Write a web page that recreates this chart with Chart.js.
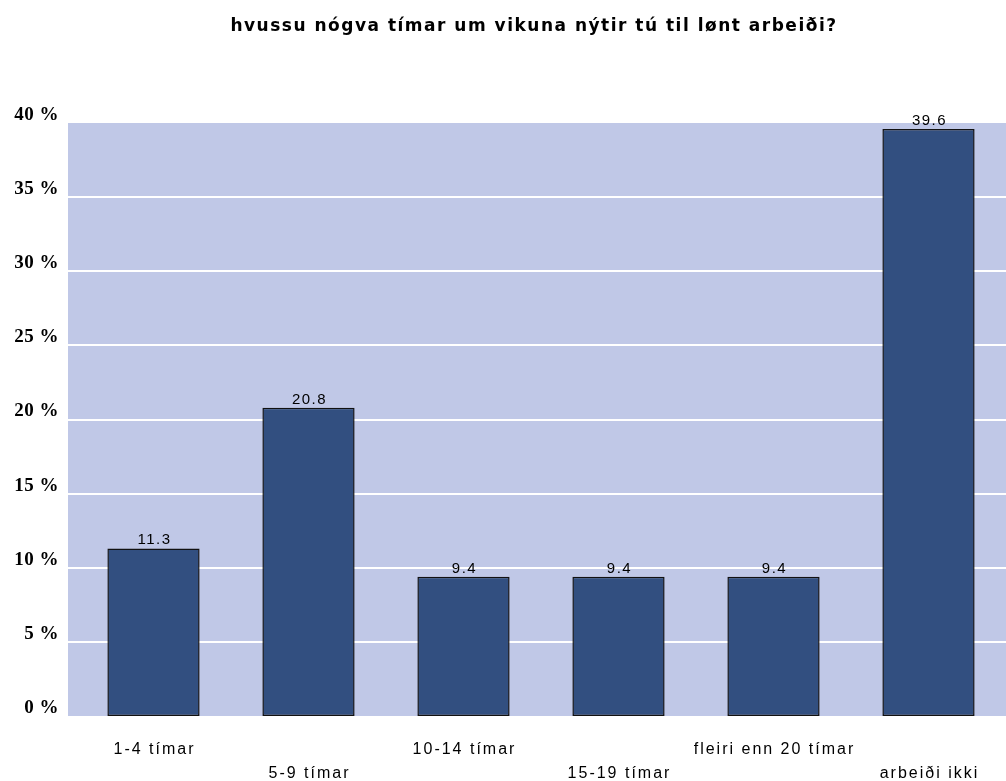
<!DOCTYPE html>
<html>
<head>
<meta charset="utf-8">
<script src="https://cdn.jsdelivr.net/npm/chart.js@4.4.0/dist/chart.umd.min.js"></script>
<style>
  html, body { margin: 0; padding: 0; background: #ffffff; }
  #wrap { position: relative; width: 1006px; height: 781px; }
</style>
</head>
<body>
<div id="wrap"><canvas id="hoursChart"></canvas></div>
<script>
// data
const categories = ['1-4 tímar', '5-9 tímar', '10-14 tímar', '15-19 tímar', 'fleiri enn 20 tímar', 'arbeiði ikki'];
const percents = [11.3, 20.8, 9.4, 9.4, 9.4, 39.6];
const yTicks = [0, 5, 10, 15, 20, 25, 30, 35, 40];
const chartTitle = 'hvussu nógva tímar um vikuna nýtir tú til lønt arbeiði?';

const SANS = '"Liberation Sans", Arial, sans-serif';

// plot background + white gridlines, a bit wider than the chart area
const plotBackground = {
    id: 'plotBackground',
    beforeDraw(chart) {
        const { ctx, chartArea } = chart;
        const y = chart.scales.y;
        ctx.save();
        ctx.fillStyle = '#c0c8e7';
        ctx.fillRect(chartArea.left - 8, chartArea.top, chartArea.right - chartArea.left + 8, chartArea.bottom - chartArea.top);
        ctx.strokeStyle = '#ffffff';
        ctx.lineWidth = 2;
        yTicks.forEach(t => {
            if (t === 0 || t === 40) return;
            const py = Math.round(y.getPixelForValue(t));
            ctx.beginPath();
            ctx.moveTo(chartArea.left - 8, py);
            ctx.lineTo(chartArea.right, py);
            ctx.stroke();
        });
        ctx.restore();
    }
};

// all the text: drawn here so the wide letter spacing of the original can be kept
const textLayer = {
    id: 'textLayer',
    afterDatasetsDraw(chart) {
        const { ctx } = chart;
        const x = chart.scales.x;
        const y = chart.scales.y;
        ctx.save();
        ctx.fillStyle = '#000000';

        // title
        ctx.font = 'bold 17px "DejaVu Sans", Verdana, sans-serif';
        ctx.letterSpacing = '1.5px';
        ctx.textAlign = 'center';
        ctx.textBaseline = 'alphabetic';
        ctx.fillText(chartTitle, 534, 31);

        // y tick labels
        ctx.font = 'bold 19px "Liberation Serif", "Times New Roman", serif';
        ctx.letterSpacing = '0.5px';
        ctx.textAlign = 'right';
        ctx.textBaseline = 'middle';
        yTicks.forEach(t => {
            ctx.fillText(t + ' %', 59, y.getPixelForValue(t) - 8);
        });

        // category labels, every second one on a lower line
        ctx.font = '16px ' + SANS;
        ctx.letterSpacing = '2px';
        ctx.textAlign = 'center';
        categories.forEach((c, i) => {
            const px = x.getPixelForTick(i);
            const py = y.getPixelForValue(0) + (i % 2 === 1 ? 58 : 34);
            ctx.fillText(c, px + 1, py);
        });

        // values over the bars
        ctx.font = '15px ' + SANS;
        ctx.letterSpacing = '1.5px';
        ctx.textBaseline = 'alphabetic';
        chart.getDatasetMeta(0).data.forEach((bar, i) => {
            ctx.fillText(percents[i].toFixed(1), bar.x + 1, bar.y - 4);
        });
        ctx.restore();
    }
};

const ctx = document.getElementById('hoursChart').getContext('2d');
const hoursChart = new Chart(ctx, {
    type: 'bar',
    data: {
        labels: categories,
        datasets: [{
            data: percents,
            backgroundColor: '#324f80',
            borderColor: '#111111',
            borderWidth: 1.5,
            borderSkipped: false,
            categoryPercentage: 1.0,
            barPercentage: 0.595
        }]
    },
    options: {
        responsive: true,
        maintainAspectRatio: false,
        animation: false,
        layout: { padding: { top: 123, right: 0, bottom: 0, left: 0 } },
        plugins: {
            legend: { display: false },
            tooltip: { enabled: false },
            title: { display: false }
        },
        scales: {
            x: {
                offset: true,
                grid: { display: false, drawTicks: false },
                border: { display: false },
                ticks: { display: false },
                afterFit(scale) { scale.height = 65; }
            },
            y: {
                min: 0,
                max: 40,
                grid: { display: false, drawTicks: false },
                border: { display: false },
                ticks: { display: false, stepSize: 5 },
                afterFit(scale) { scale.width = 76; }
            }
        }
    },
    plugins: [plotBackground, textLayer]
});
</script>
</body>
</html>
